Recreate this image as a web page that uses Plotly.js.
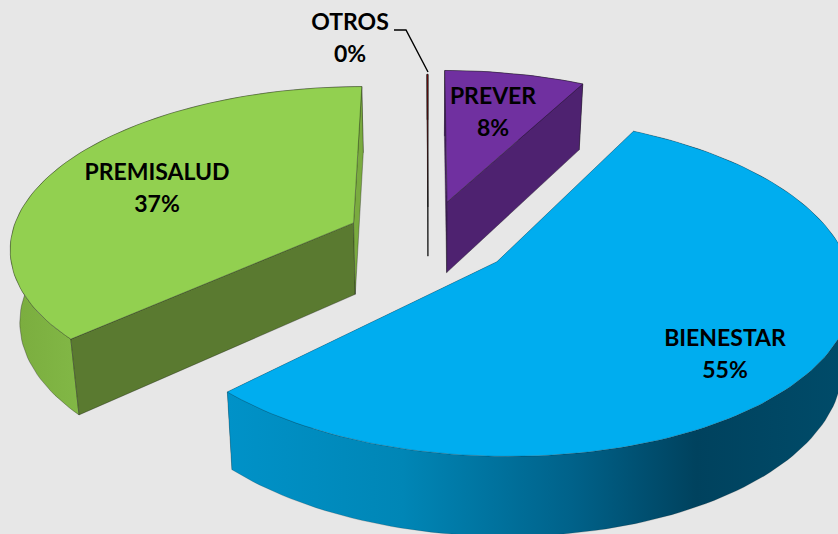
<!DOCTYPE html>
<html><head><meta charset="utf-8">
<script src="https://cdn.plot.ly/plotly-3.0.1.min.js"></script>
<style>html,body{margin:0;padding:0;background:#E7E7E7}#c{width:838px;height:534px}</style>
</head><body><div id="c"></div>
<script>
const categories = ["PREVER","BIENESTAR","PREMISALUD","OTROS"];
const shares = [7.7,54.9,37.35,0.05];
const explosion = [0.24,0.245,0.24,0.2];
const startTrim = [0,0,2,0];
const topColors = ["#7030A0","#00ADEF","#92D050","#C00000"];
const cutColors = ["#4E2270","#0085B8","#5A7A30","#222222"];
const edgeAlpha = [0.6,0.3,0.55,0.8];
const labelX = [493,725,157,350];
const labelY = [98,340,174,24];
const pctGap = 32;
const wallHeight = [72,72,72,50];

// view of the tilted pie
const cx=428, cy=238, A=343, B=159.6, k=0.1417, shrink=0.977;
function proj(u,v){const w=1+k*v;return [cx+A*u/w, cy-B*v/w, w];}
function bottom(p,H){return [cx+shrink*(p[0]-cx), p[1]+H/Math.pow(p[2],0.6)];}

const traces=[];
function poly(pts,color,extra){
  const t=Object.assign({type:"scatter",mode:"lines",x:pts.map(p=>p[0]),y:pts.map(p=>p[1]),
    fill:"toself",fillcolor:color,hoverinfo:"skip",showlegend:false,
    line:{color:"rgba(20,20,20,0.7)",width:0.6}},extra||{});
  traces.push(t);
}
const total=shares.reduce((a,b)=>a+b,0);
let start=0;
const wallStyles=[
  {fillcolor:"#4E2270"},
  {fillgradient:{type:"horizontal",colorscale:[[0,"#0092C8"],[0.28,"#0086B6"],[0.55,"#00628A"],[0.75,"#00425E"],[1,"#004C6A"]]}},
  {fillgradient:{type:"horizontal",colorscale:[[0,"#7AAC3E"],[0.2,"#82B846"],[1,"#7AAB3F"]]}},
  {fillcolor:"#222222"}
];
shares.forEach((s,i)=>{
  const a0=start+startTrim[i], a1=start+360*s/total; start=a1;
  const mid=(a0+a1)/2*Math.PI/180, e=explosion[i];
  const eu=e*Math.sin(mid), ev=e*Math.cos(mid);
  const arc=[];
  const n=Math.max(2,Math.ceil((a1-a0)/1.5));
  for(let j=0;j<=n;j++){const t=(a0+(a1-a0)*j/n)*Math.PI/180;arc.push(proj(eu+Math.sin(t),ev+Math.cos(t)));}
  const apex=proj(eu,ev), H=wallHeight[i];
  const first=arc[0], last=arc[arc.length-1];
  const edge={line:{color:"rgba(20,20,20,"+edgeAlpha[i]+")",width:0.6}};
  const drawCuts=()=>{
    poly([apex,first,bottom(first,H),bottom(apex,H),apex],cutColors[i],edge);
    poly([apex,last,bottom(last,H),bottom(apex,H),apex],i===2?"#7AAB3F":cutColors[i],edge);
  };
  const drawWall=()=>{
    const wall=arc.concat(arc.map(p=>bottom(p,H)).reverse());
    wall.push(arc[0]);
    const style=wallStyles[i];
    poly(wall,style.fillcolor||"rgba(0,0,0,0)",Object.assign({},edge,style.fillgradient?{fillgradient:style.fillgradient}:{}));
  };
  if(i===1){drawCuts();drawWall();}else{drawWall();drawCuts();}
  poly([apex].concat(arc,[apex]),topColors[i],edge);
});
// leader for OTROS
traces.push({type:"scatter",mode:"lines",x:[394,406,428],y:[30,30,72],line:{color:"#000",width:1.4},hoverinfo:"skip",showlegend:false});
// labels
const font={family:"Lato, Carlito, sans-serif",size:23,color:"#000",weight:700};
traces.push({type:"scatter",mode:"text",x:labelX,y:labelY,text:categories,textposition:"middle center",textfont:font,hoverinfo:"skip",showlegend:false,cliponaxis:false});
traces.push({type:"scatter",mode:"text",x:labelX,y:labelY.map(v=>v+pctGap),text:shares.map(v=>Math.round(v)+"%"),textposition:"middle center",textfont:font,hoverinfo:"skip",showlegend:false,cliponaxis:false});

const axis={visible:false,fixedrange:true,autorange:false,showgrid:false,zeroline:false};
Plotly.newPlot("c",traces,{
  width:838,height:534,margin:{l:0,r:0,t:0,b:0},
  paper_bgcolor:"#E7E7E7",plot_bgcolor:"#E7E7E7",showlegend:false,
  xaxis:Object.assign({range:[0,838]},axis),
  yaxis:Object.assign({range:[534,0]},axis)
},{displayModeBar:false,staticPlot:true});
</script></body></html>
